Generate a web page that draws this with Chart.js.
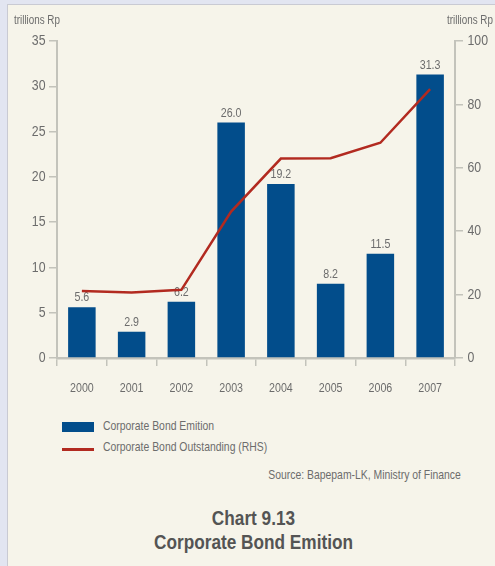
<!DOCTYPE html>
<html>
<head>
<meta charset="utf-8">
<script src="https://cdn.jsdelivr.net/npm/chart.js@4.4.1/dist/chart.umd.min.js"></script>
<style>
  html, body { margin: 0; padding: 0; }
  body { width: 495px; height: 566px; background: #e2e5f1; position: relative; overflow: hidden;
         font-family: "Liberation Sans", Arial, sans-serif; }
  #panel { position: absolute; left: 7px; top: 4px; width: 500px; height: 600px;
           background: #f6f4ea; border-left: 1.5px solid #c9cad3; border-top: 1.5px solid #c9cad3; }
  #wrap { position: absolute; left: 0; top: 0; width: 495px; height: 400px; }
  /* narrow lettering: regular face squeezed horizontally */
  .t { position: absolute; white-space: nowrap; color: #6c6c6c; line-height: 1;
       transform: scaleX(0.82); transform-origin: left center; }
  .t.r { transform-origin: right center; }
  .unit { font-size: 12px; }
  .leg { font-size: 12.7px; }
  .sw { position: absolute; }
  .title { position: absolute; left: 0; width: 507px; text-align: center; font-weight: bold;
           font-size: 21px; color: #545454; line-height: 1; transform: scaleX(0.82);
           transform-origin: 253.5px center; }
</style>
</head>
<body>
<div id="panel"></div>
<div id="wrap"><canvas id="c" width="495" height="400"></canvas></div>

<div class="t unit" style="left:14px; top:14px;">trillions Rp</div>
<div class="t unit" style="left:447px; top:14px;">trillions Rp</div>

<div class="sw" style="left:62px; top:422px; width:32px; height:10px; background:#024d8b;"></div>
<div class="t leg" style="left:103px; top:420px;">Corporate Bond Emition</div>
<div class="sw" style="left:62px; top:448px; width:32px; height:2.5px; background:#b22a20;"></div>
<div class="t leg" style="left:103px; top:441px;">Corporate Bond Outstanding (RHS)</div>

<div class="t r leg" style="right:34px; top:469px;">Source: Bapepam-LK, Ministry of Finance</div>

<div class="title" style="top:507px;">Chart 9.13</div>
<div class="title" style="top:531px;">Corporate Bond Emition</div>

<script>
// Years on the category axis
const years = ['2000', '2001', '2002', '2003', '2004', '2005', '2006', '2007'];
// Corporate bond emission per year, trillions Rp (left axis)
const emission = [5.6, 2.9, 6.2, 26.0, 19.2, 8.2, 11.5, 31.3];
// Corporate bond outstanding, trillions Rp (right axis)
const outstanding = [21.1, 20.7, 21.5, 46.2, 62.9, 63.0, 67.9, 84.8];
// Axis ranges
const leftMax = 35, leftStep = 5;
const rightMax = 100, rightStep = 20;

const FONT = '"Liberation Sans", Arial, sans-serif';
const NARROW = 0.82;
const AXIS = '#c3c3bb';
const TXT = '#6c6c6c';

// text squeezed horizontally to get a narrow face
function narrowText(ctx, text, x, y, size, align) {
  ctx.save();
  ctx.font = size + 'px ' + FONT;
  ctx.fillStyle = TXT;
  ctx.textAlign = align;
  ctx.textBaseline = 'middle';
  ctx.translate(x, y);
  ctx.scale(NARROW, 1);
  ctx.fillText(text, 0, 0);
  ctx.restore();
}

// Value labels above each bar (drawn before the line so the line passes over them)
const barLabels = {
  id: 'barLabels',
  afterDatasetDraw(chart, args) {
    if (args.index !== 0) return;
    args.meta.data.forEach((bar, i) => {
      narrowText(chart.ctx, emission[i].toFixed(1), bar.x, bar.y - 9.5, 13, 'center');
    });
  }
};

// Tick labels of the three axes in the narrow face
const axisLabels = {
  id: 'axisLabels',
  afterDraw(chart) {
    const ctx = chart.ctx;
    const { x, y, y1 } = chart.scales;
    y.ticks.forEach(t => narrowText(ctx, String(t.value), 45.5, y.getPixelForValue(t.value), 15, 'right'));
    y1.ticks.forEach(t => narrowText(ctx, String(t.value), 467.5, y1.getPixelForValue(t.value), 15, 'left'));
    years.forEach((lab, i) => narrowText(ctx, lab, x.getPixelForTick(i), chart.chartArea.bottom + 30, 13, 'center'));
  }
};

new Chart(document.getElementById('c'), {
  data: {
    labels: years,
    datasets: [
      {
        type: 'bar',
        label: 'Corporate Bond Emition',
        data: emission,
        yAxisID: 'y',
        backgroundColor: '#024d8b',
        borderWidth: 0,
        barPercentage: 0.553,
        categoryPercentage: 1.0,
        order: 1
      },
      {
        type: 'line',
        label: 'Corporate Bond Outstanding (RHS)',
        data: outstanding,
        yAxisID: 'y1',
        borderColor: '#b22a20',
        borderWidth: 2.5,
        pointRadius: 0,
        tension: 0,
        fill: false,
        order: 0
      }
    ]
  },
  options: {
    responsive: false,
    animation: false,
    devicePixelRatio: 1,
    layout: { padding: { top: 41, bottom: 2, left: 0, right: 0 } },
    plugins: { legend: { display: false }, tooltip: { enabled: false } },
    scales: {
      x: {
        offset: true,
        grid: { offset: true, drawOnChartArea: false, drawTicks: true, tickLength: 8, color: AXIS, lineWidth: 1.5 },
        border: { display: true, color: AXIS, width: 2.5 },
        ticks: { display: false },
        afterFit(s) { s.height = 40; }
      },
      y: {
        position: 'left',
        min: 0, max: leftMax,
        grid: { drawOnChartArea: false, drawTicks: true, tickLength: 8, color: AXIS, lineWidth: 1.5 },
        border: { display: true, color: AXIS, width: 2 },
        ticks: { stepSize: leftStep, display: false },
        afterFit(s) { s.width = 57; }
      },
      y1: {
        position: 'right',
        min: 0, max: rightMax,
        grid: { drawOnChartArea: false, drawTicks: true, tickLength: 8, color: AXIS, lineWidth: 1.5 },
        border: { display: true, color: AXIS, width: 2 },
        ticks: { stepSize: rightStep, display: false },
        afterFit(s) { s.width = 40; }
      }
    }
  },
  plugins: [barLabels, axisLabels]
});
</script>
</body>
</html>
